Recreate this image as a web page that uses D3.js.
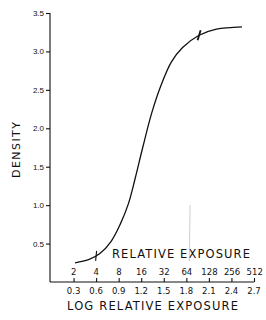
<!DOCTYPE html>
<html>
<head>
<meta charset="utf-8">
<script src="https://cdn.jsdelivr.net/npm/d3@7"></script>
<style>
  html, body { margin: 0; padding: 0; background: #fff; }
  svg { display: block; font-family: "DejaVu Sans", sans-serif; }
</style>
</head>
<body>
<div id="chart"></div>
<script>
// characteristic curve
const logExposure = [0.32, 0.50, 0.65, 0.80, 0.92, 1.03, 1.12, 1.22, 1.34, 1.46, 1.60, 1.75, 1.97, 2.20, 2.54];
const density     = [0.25, 0.29, 0.37, 0.53, 0.75, 1.02, 1.35, 1.75, 2.20, 2.55, 2.86, 3.05, 3.21, 3.29, 3.32];

// little cross strokes drawn on the curve
const markLog = [0.60, 1.97];
const markDensity = [0.34, 3.21];

const logTicks = [0.3, 0.6, 0.9, 1.2, 1.5, 1.8, 2.1, 2.4, 2.7];
const relTicks = [2, 4, 8, 16, 32, 64, 128, 256, 512];
const densityTicks = [0.5, 1.0, 1.5, 2.0, 2.5, 3.0, 3.5];

const width = 266, height = 320;

const x = d3.scaleLinear().domain([0, 2.7]).range([51, 254]);
const y = d3.scaleLinear().domain([0, 3.5]).range([282, 13]);

const svg = d3.select("#chart").append("svg")
  .attr("width", width)
  .attr("height", height);

svg.append("rect")
  .attr("width", width).attr("height", height)
  .attr("fill", "#fff");

// ### y axis
const yAxis = svg.append("g")
  .attr("transform", `translate(50,0)`)
  .call(d3.axisLeft(y).tickValues(densityTicks).tickFormat(d3.format(".1f")).tickSize(4).tickPadding(2));
yAxis.select(".domain").attr("d", `M0,${y(3.5)}V${y(0)}`);

// ### x axis (ticks point up, two rows of labels)
const xAxis = svg.append("g")
  .attr("transform", `translate(0,${y(0)})`)
  .call(d3.axisTop(x).tickValues(logTicks).tickSize(4).tickFormat(""));
xAxis.select(".domain").attr("d", `M50,0H${x(2.7)}`);

svg.selectAll("g .domain, g .tick line")
  .attr("stroke", "#111")
  .attr("stroke-width", 1.1);
svg.selectAll("g .tick text")
  .attr("fill", "#111")
  .style("font-size", "8px");

// lower row: log relative exposure
svg.append("g").selectAll("text")
  .data(logTicks)
  .join("text")
  .attr("x", d => x(d))
  .attr("y", y(0) + 12)
  .attr("text-anchor", "middle")
  .attr("fill", "#111")
  .style("font-size", "8.5px")
  .text(d => d3.format(".1f")(d));

// upper row: relative exposure, placed at log10 of the value
svg.append("g").selectAll("text")
  .data(relTicks)
  .join("text")
  .attr("x", d => x(Math.log10(d)))
  .attr("y", y(0) - 7)
  .attr("text-anchor", "middle")
  .attr("fill", "#111")
  .style("font-size", "8.5px")
  .text(d => d);

// ### titles
svg.append("text")
  .attr("x", 112).attr("y", 258)
  .attr("textLength", 138).attr("lengthAdjust", "spacing")
  .attr("fill", "#111")
  .style("font-size", "11.5px")
  .text("RELATIVE EXPOSURE");

svg.append("text")
  .attr("x", 67).attr("y", 310)
  .attr("textLength", 171).attr("lengthAdjust", "spacing")
  .attr("fill", "#111")
  .style("font-size", "11.5px")
  .text("LOG RELATIVE EXPOSURE");

svg.append("text")
  .attr("transform", "translate(20,178) rotate(-90)")
  .attr("textLength", 56).attr("lengthAdjust", "spacing")
  .attr("fill", "#111")
  .style("font-size", "11px")
  .text("DENSITY");

// faint pencil guide near 64
svg.append("line")
  .attr("x1", x(1.85)).attr("x2", x(1.84))
  .attr("y1", y(1.0)).attr("y2", y(0.27))
  .attr("stroke", "#aaa")
  .attr("stroke-width", 0.6);

// ### the curve
const pts = logExposure.map((d, i) => [d, density[i]]);
svg.append("path")
  .datum(pts)
  .attr("fill", "none")
  .attr("stroke", "#111")
  .attr("stroke-width", 1.3)
  .attr("d", d3.line().x(d => x(d[0])).y(d => y(d[1])).curve(d3.curveCatmullRom.alpha(0.5)));

svg.append("g").selectAll("line")
  .data(markLog)
  .join("line")
  .attr("x1", (d, i) => x(d) - (i ? 1.5 : 0.5))
  .attr("x2", (d, i) => x(d) + (i ? 1.5 : 0.5))
  .attr("y1", (d, i) => y(markDensity[i]) + 5)
  .attr("y2", (d, i) => y(markDensity[i]) - 5)
  .attr("stroke", "#111")
  .attr("stroke-width", (d, i) => i ? 1.8 : 1.1);
</script>
</body>
</html>
